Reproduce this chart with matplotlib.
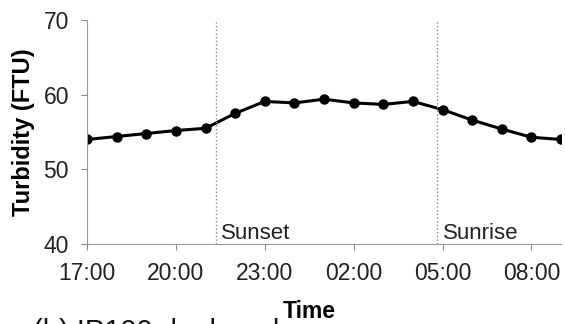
import matplotlib.pyplot as plt

plt.rcParams['font.family'] = ['Liberation Sans', 'DejaVu Sans']

# hourly readings, 17:00 to 09:00
hours = list(range(17))
turbidity = [54.0, 54.4, 54.8, 55.2, 55.5, 57.5, 59.1, 58.9, 59.4,
             58.9, 58.7, 59.1, 58.0, 56.6, 55.4, 54.3, 54.0]
tick_pos = [0, 3, 6, 9, 12, 15]
tick_labels = ['17:00', '20:00', '23:00', '02:00', '05:00', '08:00']
sunset = 4.37
sunrise = 11.8

fig = plt.figure(figsize=(5.65, 3.24), dpi=100)
ax = fig.add_axes([0.154, 0.247, 0.839, 0.691])

ax.plot(hours, turbidity, color='black', lw=2.2, marker='o', ms=6.5)
ax.axvline(sunset, color='#888888', ls=':', lw=1)
ax.axvline(sunrise, color='#888888', ls=':', lw=1)
ax.text(sunset + 0.15, 40.7, 'Sunset', fontsize=16, color='#222222')
ax.text(sunrise + 0.2, 40.7, 'Sunrise', fontsize=16, color='#222222')

ax.set_xlim(0, 16)
ax.set_ylim(40, 70)
ax.set_yticks([40, 50, 60, 70])
ax.set_xticks(tick_pos)
ax.set_xticklabels(tick_labels)
ax.tick_params(colors='#888888', labelcolor='#222222', labelsize=16.5, length=4)
ax.tick_params(axis='y', pad=9)
ax.tick_params(axis='x', pad=9)
for s in ['top', 'right']:
    ax.spines[s].set_visible(False)
for s in ['left', 'bottom']:
    ax.spines[s].set_color('#999999')

ax.set_ylabel('Turbidity (FTU)', fontsize=17, fontweight='bold', labelpad=6)
ax.set_xlabel('Time', fontsize=16.5, fontweight='bold')
ax.xaxis.set_label_coords(0.468, -0.25)

# caption is clipped by the bottom edge, as in the source figure
fig.text(0.058, 0.02, '(b) IP100 deployed', fontsize=21, va='top', color='#111111')

fig.savefig('out.png', dpi=100)
